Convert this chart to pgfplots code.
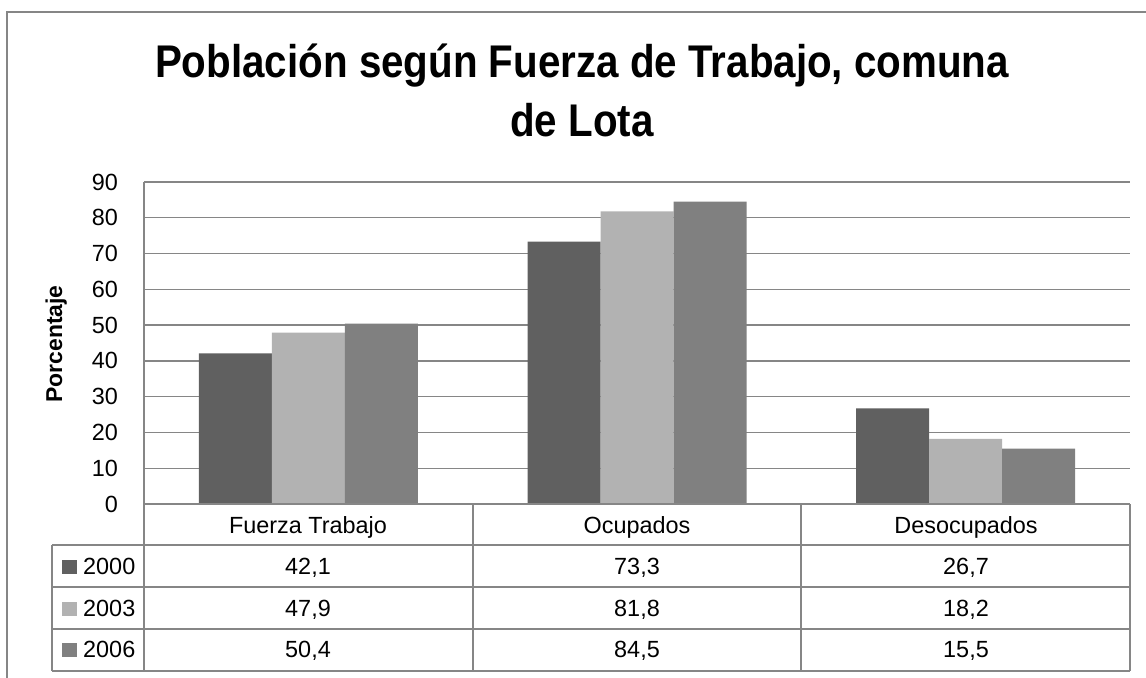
\documentclass[border=0pt]{standalone}
\usepackage{pgfplots}
\pgfplotsset{compat=1.18}
\usepackage{fontspec}
\setmainfont{Liberation Sans}
\newfontfamily\titlefont[FakeStretch=0.88]{Liberation Sans}
\definecolor{gridc}{HTML}{868686}
\definecolor{cA}{HTML}{606060}
\definecolor{cB}{HTML}{B2B2B2}
\definecolor{cC}{HTML}{808080}
\begin{document}
\begin{tikzpicture}[x=1bp,y=-1bp]
\useasboundingbox (0,0) rectangle (1146,678);
\draw[gridc, line width=1.3bp] (7,680) -- (7,12) -- (1148,12);
\node[anchor=base, inner sep=0pt, font=\titlefont\bfseries\fontsize{46}{55}\selectfont] at (582,78) {Población según Fuerza de Trabajo, comuna};
\node[anchor=base, inner sep=0pt, font=\titlefont\bfseries\fontsize{46}{55}\selectfont] at (582,137) {de Lota};
\node[anchor=base, rotate=90, inner sep=0pt, font=\bfseries\fontsize{23}{28}\selectfont] at (62,344) {Porcentaje};
\coordinate (ax) at (144,504);
\begin{axis}[at={(ax)}, anchor=south west,
  scale only axis, width=986bp, height=322bp,
  ymin=0, ymax=90, ytick={0,10,...,90},
  xmin=-0.5, xmax=2.5, xtick=\empty,
  ybar=0pt, bar width=73bp,
  axis y line*=left, axis x line*=bottom,
  axis line style={-, gridc, line width=1.3bp},
  ymajorgrids, grid style={gridc, line width=1.3bp},
  major tick length=0pt,
  /pgf/number format/assume math mode=true,
  yticklabel style={font=\fontsize{23.5}{28}\selectfont, inner sep=0pt, xshift=-26bp, anchor=east},
  clip=false]
\addplot[fill=cA, draw=none] coordinates {(0,42.1) (1,73.3) (2,26.7)};
\addplot[fill=cB, draw=none] coordinates {(0,47.9) (1,81.8) (2,18.2)};
\addplot[fill=cC, draw=none] coordinates {(0,50.4) (1,84.5) (2,15.5)};
\end{axis}
% data table
\begin{scope}[gridc, line width=1.3bp]
\draw (144,504) -- (1130,504);
\foreach \yy in {545,587,629,671} \draw (52,\yy) -- (1130,\yy);
\draw (52,545) -- (52,671);
\foreach \xx in {144,473,801,1130} \draw (\xx,504) -- (\xx,671);
\end{scope}
\begin{scope}[every node/.style={anchor=base, inner sep=0pt, font=\fontsize{23.5}{28}\selectfont}]
\node at (308,533) {Fuerza Trabajo};
\node at (637,533) {Ocupados};
\node at (966,533) {Desocupados};
\node at (308,574) {42,1};
\node at (637,574) {73,3};
\node at (966,574) {26,7};
\node at (308,616) {47,9};
\node at (637,616) {81,8};
\node at (966,616) {18,2};
\node at (308,657) {50,4};
\node at (637,657) {84,5};
\node at (966,657) {15,5};
\node[anchor=base west] at (83,574) {2000};
\node[anchor=base west] at (83,616) {2003};
\node[anchor=base west] at (83,657) {2006};
\end{scope}
\fill[cA] (62,560) rectangle (77,574);
\fill[cB] (62,602) rectangle (77,616);
\fill[cC] (62,643) rectangle (77,657);
\end{tikzpicture}
\end{document}
